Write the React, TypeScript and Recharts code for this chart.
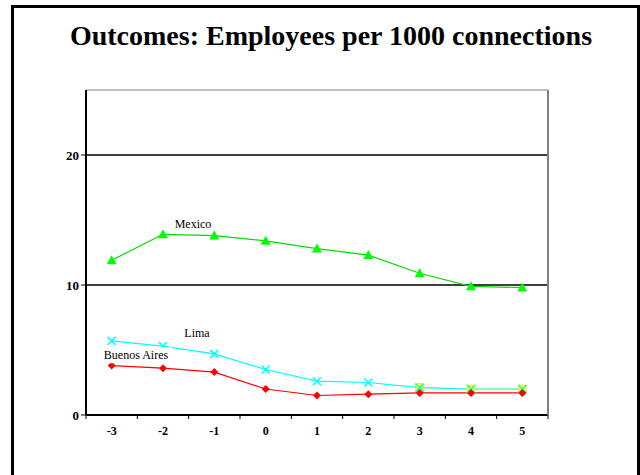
import { CartesianGrid, Line, LineChart, ReferenceLine, XAxis, YAxis } from 'recharts';

const years = [-3, -2, -1, 0, 1, 2, 3, 4, 5];
const mexico = [11.9, 13.9, 13.8, 13.4, 12.8, 12.3, 10.9, 9.9, 9.8];
const lima = [5.7, 5.3, 4.7, 3.5, 2.6, 2.5, 2.1, 2.0, 2.0];
const buenosAires = [3.8, 3.6, 3.3, 2.0, 1.5, 1.6, 1.7, 1.7, 1.7];
const other = [null, null, null, null, null, null, 2.1, 2.0, 2.0];
const yTicks = [0, 10, 20];
const yGrid = [10, 20];
// integer ticks get labels, half steps are the band boundaries with tick marks
const xTicks = [-3.5, -3, -2.5, -2, -1.5, -1, -0.5, 0, 0.5, 1, 1.5, 2, 2.5, 3, 3.5, 4, 4.5, 5, 5.5];

const data = years.map((year, i) => ({
  year,
  mexico: mexico[i],
  lima: lima[i],
  buenosAires: buenosAires[i],
  other: other[i],
}));

const serif = 'Liberation Serif';

const XTick = (props: any) => {
  const { x, y, payload } = props;
  const v = payload.value;
  if (!Number.isInteger(v)) {
    return <line x1={x} x2={x} y1={y} y2={y + 4} stroke="#000" strokeWidth={1} />;
  }
  return (
    <text x={x} y={y + 20} textAnchor="middle" fontFamily={serif} fontWeight="bold" fontSize={12} fill="#000">
      {v}
    </text>
  );
};

const triangle = (props: any) => {
  const { cx, cy, index } = props;
  if (cy == null) return <g key={index} />;
  return <polygon key={index} points={`${cx},${cy - 5} ${cx - 5},${cy + 4} ${cx + 5},${cy + 4}`} fill="#00ff00" />;
};

const cross = (props: any) => {
  const { cx, cy, index } = props;
  if (cy == null) return <g key={index} />;
  return (
    <g key={index} stroke="#00ffff" strokeWidth={1.5}>
      <line x1={cx - 4} y1={cy - 4} x2={cx + 4} y2={cy + 4} />
      <line x1={cx - 4} y1={cy + 4} x2={cx + 4} y2={cy - 4} />
    </g>
  );
};

const diamond = (props: any) => {
  const { cx, cy, index } = props;
  if (cy == null) return <g key={index} />;
  return <polygon key={index} points={`${cx},${cy - 4} ${cx + 4},${cy} ${cx},${cy + 4} ${cx - 4},${cy}`} fill="#ff0000" />;
};

const square = (props: any) => {
  const { cx, cy, index } = props;
  if (cy == null) return <g key={index} />;
  return <rect key={index} x={cx - 4} y={cy - 4} width={8} height={8} fill="#ffff00" stroke="#d8d800" strokeWidth={0.5} />;
};

const seriesLabel = (text: string, dx: number, dy: number, boxed = false) => (props: any) => {
  const { x, y, index } = props;
  if (index !== 1) return <g key={index} />;
  return (
    <g key={index}>
      {boxed && <rect x={x + dx - 36} y={y + dy - 12} width={72} height={16} fill="#fff" />}
      <text x={x + dx} y={y + dy} textAnchor="middle" fontFamily={serif} fontSize={12} fill="#000">
        {text}
      </text>
    </g>
  );
};

export default function App() {
  return (
    <div style={{ position: 'absolute', left: 0, top: 0, width: 640, height: 475, overflow: 'hidden', background: '#fff' }}>
      <div
        style={{
          position: 'absolute',
          left: 11,
          top: 5,
          width: 629,
          height: 520,
          boxSizing: 'border-box',
          border: '3px solid #000',
        }}
      />
      <div
        style={{
          position: 'absolute',
          left: 0,
          top: 22,
          width: 662,
          textAlign: 'center',
          fontFamily: serif,
          fontWeight: 'bold',
          fontSize: 28,
          lineHeight: '28px',
          color: '#000',
        }}
      >
        Outcomes: Employees per 1000 connections
      </div>
      <div style={{ position: 'absolute', left: 0, top: 0 }}>
        <LineChart width={640} height={475} data={data} margin={{ top: 90, right: 91, bottom: 0, left: 0 }}>
          <CartesianGrid horizontal vertical={false} horizontalValues={yGrid} stroke="#000" strokeWidth={1.4} />
          <ReferenceLine y={25} stroke="#808080" strokeWidth={1} />
          <XAxis
            dataKey="year"
            type="number"
            domain={[-3.5, 5.5]}
            ticks={xTicks}
            interval={0}
            height={60}
            tickSize={0}
            tickMargin={0}
            tickLine={false}
            axisLine={{ stroke: '#000', strokeWidth: 2 }}
            tick={<XTick />}
          />
          <YAxis
            domain={[0, 25]}
            ticks={yTicks}
            width={86}
            tickSize={5}
            tickMargin={2}
            tickLine={{ stroke: '#000' }}
            axisLine={{ stroke: '#000', strokeWidth: 2 }}
            tick={{ fontFamily: serif, fontWeight: 'bold', fontSize: 13, fill: '#000' }}
          />
          <YAxis yAxisId="frame" orientation="right" width={1} tick={false} tickLine={false} axisLine={{ stroke: '#808080', strokeWidth: 2 }} />
          <Line dataKey="other" name="Other" stroke="#ffff00" strokeWidth={1} dot={square} isAnimationActive={false} />
          <Line dataKey="lima" name="Lima" stroke="#00ffff" strokeWidth={1.2} dot={cross} label={seriesLabel('Lima', 34, -9)} isAnimationActive={false} />
          <Line
            dataKey="buenosAires"
            name="Buenos Aires"
            stroke="#ff0000"
            strokeWidth={1.2}
            dot={diamond}
            label={seriesLabel('Buenos Aires', -27, -9, true)}
            isAnimationActive={false}
          />
          <Line dataKey="mexico" name="Mexico" stroke="#00dd00" strokeWidth={1.2} dot={triangle} label={seriesLabel('Mexico', 30, -6)} isAnimationActive={false} />
        </LineChart>
      </div>
    </div>
  );
}
